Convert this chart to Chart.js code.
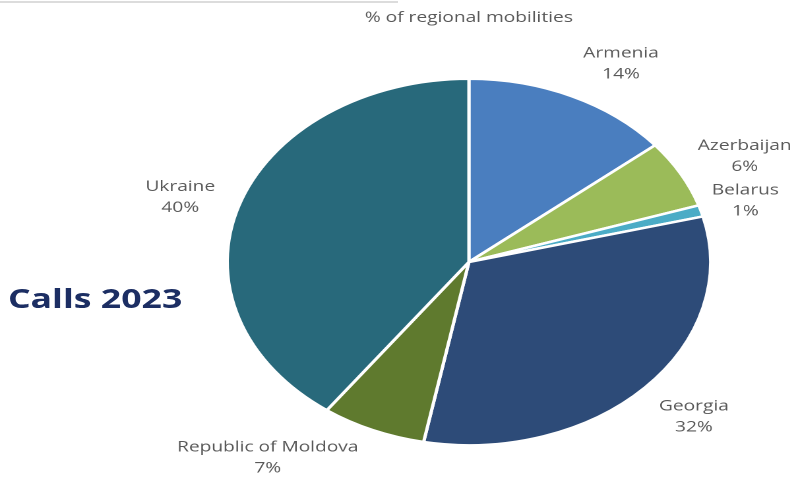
<!DOCTYPE html>
<html lang="en">

<head>
  <meta charset="UTF-8">
  <title>Calls 2023 - % of regional mobilities</title>
  <script src="https://cdn.jsdelivr.net/npm/chart.js@4.4.0/dist/chart.umd.min.js"></script>
  <style>
    html, body {
      margin: 0;
      padding: 0;
      background: #fff;
      width: 794px;
      height: 477px;
      overflow: hidden;
    }

    /* thin table border left over at the top of the screenshot */
    .top-rule {
      position: absolute;
      top: 1px;
      left: 0;
      width: 398px;
      height: 2px;
      background: #dcdcdc;
    }

    /* the whole picture is stretched sideways, so draw it narrow and widen it */
    #stage {
      position: absolute;
      top: 0;
      left: 0;
      width: 602px;
      height: 477px;
      transform: scaleX(1.319);
      transform-origin: 0 0;
    }

    .chart-box {
      position: absolute;
      top: 0;
      left: 0;
      width: 602px;
      height: 477px;
    }

    .calls-title {
      position: absolute;
      left: 6px;
      top: 284px;
      font-family: "Open Sans", sans-serif;
      font-weight: 700;
      font-size: 27px;
      line-height: 1;
      color: #1c2e63;
      white-space: nowrap;
    }
  </style>
</head>

<body>
  <div class="top-rule"></div>
  <div id="stage">
    <div class="chart-box">
      <canvas id="chartPie"></canvas>
    </div>
    <div class="calls-title">Calls 2023</div>
  </div>

  <script>
    // 국가별 비율 (%)
    const countries = ['Armenia', 'Azerbaijan', 'Belarus', 'Georgia', 'Republic of Moldova', 'Ukraine'];
    const shares = [14, 6, 1, 32, 7, 40];
    const chartTitle = '% of regional mobilities';

    const sliceColors = ['#4a7ebf', '#9bbb59', '#4bacc6', '#2d4b78', '#5f7a2e', '#28697b'];

    // 라벨 위치 보정 (각도 deg, 반지름 px)
    const labelAngleShift = [5, 2, 0, -1, 14.5, -1.5];
    const labelRadiusShift = [0, 5, -11, 1, 19, -1];

    const outsideLabels = {
      id: 'outsideLabels',
      afterDatasetsDraw(chart) {
        const ctx = chart.ctx;
        const meta = chart.getDatasetMeta(0);
        let cx = 0;
        ctx.save();
        ctx.fillStyle = '#595959';
        ctx.font = '14.5px "Open Sans", sans-serif';
        ctx.textAlign = 'center';
        ctx.textBaseline = 'middle';
        meta.data.forEach((arc, i) => {
          const p = arc.getProps(['x', 'y', 'startAngle', 'endAngle', 'outerRadius'], true);
          cx = p.x;
          const mid = (p.startAngle + p.endAngle) / 2 + labelAngleShift[i] * Math.PI / 180;
          const r = p.outerRadius + 46 + labelRadiusShift[i];
          const lx = p.x + Math.cos(mid) * r;
          const ly = p.y + Math.sin(mid) * r;
          ctx.fillText(chart.data.labels[i], lx, ly - 10.5);
          ctx.fillText(chart.data.datasets[0].data[i] + '%', lx, ly + 10.5);
        });
        // 상단 타이틀 (파이 중심 기준)
        ctx.fillText(chartTitle, cx, 18);
        ctx.restore();
      }
    };

    new Chart(document.getElementById('chartPie'), {
      type: 'pie',
      plugins: [outsideLabels],
      data: {
        labels: countries,
        datasets: [{
          data: shares,
          backgroundColor: sliceColors,
          borderColor: '#ffffff',
          borderWidth: 2.5
        }]
      },
      options: {
        responsive: true,
        maintainAspectRatio: false,
        animation: false,
        devicePixelRatio: 2,
        layout: {
          padding: { top: 77, bottom: 30, left: 171, right: 62 }
        },
        plugins: {
          legend: { display: false },
          tooltip: { enabled: false },
          title: { display: false }
        }
      }
    });
  </script>
</body>

</html>
